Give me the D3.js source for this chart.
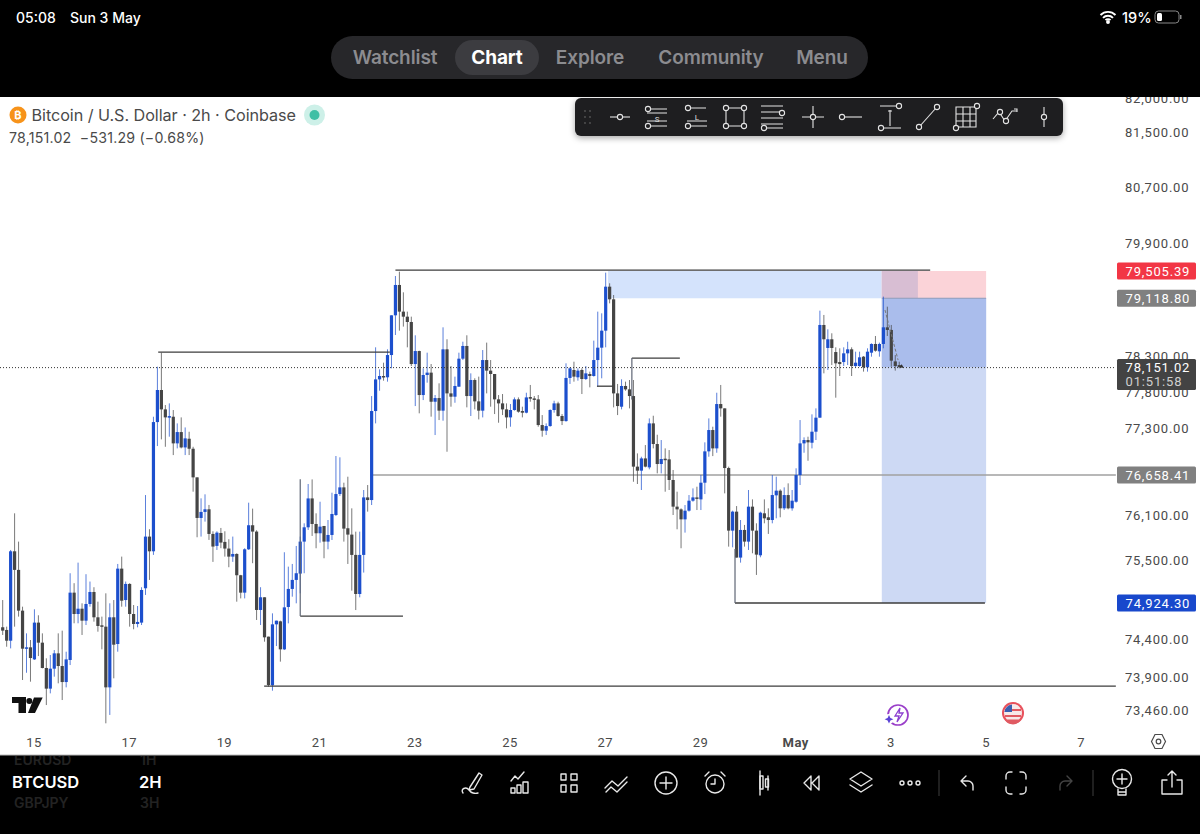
<!DOCTYPE html>
<html><head><meta charset="utf-8">
<script src="https://cdn.jsdelivr.net/npm/d3@7/dist/d3.min.js"></script>
<style>html,body{margin:0;padding:0;background:#000;overflow:hidden}svg{display:block;font-family:Roboto,Inter,sans-serif}</style>
</head><body><div id="chart"></div>
<script>
const opens=[74600,74564,74421,75620,75369,74822,74315,74333,74173,74662,
74395,74059,73786,74050,74253,74085,73873,74165,75063,74777,
74848,74688,74911,75072,74733,74626,74608,73803,74733,74377,
75386,74964,75180,74777,74644,74662,75122,75819,75620,77387,
77832,77563,77448,77461,77093,77249,77037,77157,77019,76626,
76072,76154,76190,75855,75693,75868,75747,75657,75548,75584,
75297,75063,75647,75973,75887,74831,75001,74475,73830,74639,
74679,74306,74871,75113,75234,75319,75751,75945,76338,75990,
75864,75963,75751,75841,76112,76398,76489,75932,75846,75571,
75045,75571,76352,76316,77540,77980,78027,78009,78320,78878,
79307,78930,78859,78784,78194,78376,77762,78041,78074,77669,
77720,77545,78400,77785,77739,77878,78269,78447,77748,77971,
77674,77545,78250,78102,78055,77702,77646,77563,77452,77554,
77702,77540,77517,77734,77715,77702,77346,77268,77332,77554,
77646,77471,77401,78000,78111,78009,78111,77985,78055,78027,
78250,78423,78662,79283,79104,77785,77600,77888,77841,77748,
76773,76718,76886,76763,77369,77084,76809,76882,76873,76590,
76226,76189,76053,76171,76307,76352,76325,76553,76983,77277,
77024,77637,77577,76754,75900,76158,75535,75909,75751,76226,
75900,75566,76135,76081,76044,76380,76444,76203,76384,76203,
76293,76658,77093,77139,77102,77254,77448,78742,78419,78541,
78362,78222,78222,78344,78400,78166,78166,78297,78148,78353,
78475,78372,78475,78709,78672,78231,78180];
const closes=[74555,74421,75620,75369,74822,74315,74333,74191,74662,74395,
74059,73786,74050,74253,74085,73873,74173,75063,74777,74848,
74688,74911,75072,74733,74617,74608,73803,74733,74368,75386,
74955,75180,74777,74644,74671,75099,75819,75620,77387,77832,
77563,77452,77470,77093,77249,77037,77162,77019,76626,76072,
76154,76190,75855,75684,75873,75738,75657,75548,75584,75297,
75063,75647,75973,75887,74831,75001,74466,73834,74639,74688,
74306,74866,75113,75234,75324,75751,75945,76338,75990,75864,
75954,75751,75841,76126,76398,76489,75927,75846,75571,75045,
75571,76352,76316,77540,77980,78027,78009,78320,78878,79307,
78930,78859,78784,78194,78376,77762,78041,78074,77669,77720,
77545,78400,77785,77739,77888,78269,78447,77748,77971,77674,
77545,78250,78102,78055,77702,77646,77563,77452,77554,77702,
77531,77517,77729,77711,77702,77346,77268,77332,77554,77646,
77471,77401,78000,78134,78018,78102,77985,78064,78027,78250,
78423,78662,79283,79104,77785,77609,77888,77841,77748,76773,
76718,76886,76773,77369,77084,76809,76878,76873,76590,76226,
76189,76053,76171,76307,76352,76334,76553,76983,77277,77024,
77637,77577,76754,75900,76158,75535,75909,75751,76226,75900,
75575,76144,76067,76044,76384,76444,76203,76384,76203,76307,
76658,77093,77139,77107,77254,77448,78742,78541,78541,78419,
78204,78194,78344,78400,78166,78213,78288,78148,78367,78475,
78381,78475,78709,78672,78241,78166,78151];
const highs=[74964,74608,75638,76135,75751,74875,74519,74430,74840,74760,
74519,74187,74231,74297,74519,74555,74275,75324,75190,75467,
74920,75311,75212,75136,74942,74742,75054,74920,74964,75449,
75548,75212,75190,74897,74884,75136,76384,75919,77461,78157,
78353,77623,77646,77554,77369,77452,77313,77253,77046,76626,
76339,76394,76249,75891,75891,75936,75891,75783,75819,75593,
75302,75661,76280,76199,75905,75136,75001,74475,74786,74688,
74688,75607,75413,75449,75692,75819,75999,76535,76598,76135,
76293,75963,76044,76416,76919,76901,76553,76635,76203,75886,
75886,76453,76521,77748,78428,78120,78213,78400,78878,79434,
79496,79203,78930,78859,78597,78381,78134,78353,78194,77762,
77925,78709,78541,78166,78018,78353,78507,78597,78064,77995,
78018,78390,78494,78250,78055,77762,77776,77646,77637,77729,
77729,77600,77794,77902,77748,77762,77484,77369,77563,77683,
77669,77498,78204,78148,78227,78134,78134,78166,78088,78522,
78930,78906,79482,79331,79165,77916,77981,77948,77971,77971,
76955,76909,77070,77438,77475,77212,77139,77024,77001,76727,
76430,76203,76248,76384,76475,76498,76658,77107,77438,77323,
77794,77902,77577,76773,76171,76234,76044,75977,76453,76325,
75999,76158,76325,76203,76658,76635,76462,76489,76544,76453,
76750,77415,77176,77185,77494,77577,78944,78883,78681,78625,
78428,78414,78428,78507,78428,78367,78367,78306,78414,78484,
78587,78494,79142,79000,78742,78320,78227];
const lows=[74497,74341,74319,74608,74742,73900,73996,73878,74165,74217,
74054,73570,73724,73944,73856,73636,73803,74098,74653,74653,
74497,74630,74875,74675,74541,74306,73330,73440,73922,74275,
74875,74875,74608,74573,74599,74630,75032,75234,75571,77056,
77148,77046,77185,76932,77024,77024,76932,76932,76430,75810,
75819,76022,75774,75477,75638,75662,75548,75405,75477,74942,
74986,74986,75638,75459,74697,74630,74408,73812,73759,74350,
74143,74297,74652,75009,74920,75054,75324,75909,75828,75661,
75737,75526,75647,75773,76099,76371,75751,75449,75090,74830,
75000,75333,76158,76248,77369,77822,77962,77948,78134,78601,
78662,78719,78428,78166,77609,77508,77692,77934,77462,77208,
77415,77406,76978,77600,77655,77878,78250,77591,77471,77563,
77424,77452,77785,77600,77498,77378,77484,77300,77323,77545,
77517,77452,77508,77669,77563,77323,77185,77208,77323,77517,
77462,77346,77392,77916,77948,77962,77776,77971,77869,78018,
77878,77995,78428,79047,77591,77484,77563,77822,77577,76566,
76535,76453,76763,76736,77024,76681,76681,76430,76453,76112,
75918,75661,75873,76158,76293,76180,76180,76398,76909,76918,
76964,77462,76407,75683,75674,75535,75467,75683,75638,75593,
75301,75539,75999,75855,75999,76067,76081,76180,76189,76171,
76280,76521,76964,76854,77024,77139,77448,78064,78111,78180,
77725,78027,78166,78180,78027,78148,78157,78088,78088,78297,
78367,78297,78414,78587,78157,78102,78134];

const dayTicks=["15","17","19","21","23","25","27","29","May","3","5","7"];
const dayTickIndex=[8,32,56,80,104,128,152,176,200,224,248,272];
const priceTicks=[82000,81500,80700,79900,78300,77800,77300,76100,75500,74400,73900,73460];
// drawings: [start index, end index, price]
const supportLines=[[99,233.8,79519],[39.2,97.6,78362],[149.8,153.8,77885],[158.6,170.7,78278],[75,100.9,74750],[184.6,247.6,74924.3],[65.9,280.6,73820]];
const stemLines=[[75,76600,74750],[158.6,77700,78278],[184.6,75650,74924.3]];
const lastPrice=78151.02, entryPrice=79118.8, stopPrice=79505.39, targetPrice=74924.3, levelPrice=76658.41;

const W=1200,H=834;
const svg=d3.select("#chart").append("svg").attr("width",W).attr("height",H).style("background","#fff");
const x=d3.scaleLinear().domain([0,280]).range([2.7,2.7+280*3.967]);
const y=d3.scaleLog().domain([79505.39,74924.3]).range([271,603]);
const TXT="#4a4a4a",BLUE="#1c4fcd",GRAY="#454545";
svg.append("defs").append("clipPath").attr("id","plot").append("rect").attr("x",0).attr("y",97).attr("width",1116).attr("height",658);

// zones
const zones=svg.append("g").attr("clip-path","url(#plot)");
function zone(i0,i1,p0,p1,fill){zones.append("rect").attr("x",x(i0)).attr("width",x(i1)-x(i0)).attr("y",y(p0)).attr("height",y(p1)-y(p0)).attr("fill",fill);}
zone(152.6,221.6,stopPrice,entryPrice,"#d4e3fc");
zone(221.6,247.9,stopPrice,entryPrice,"#fbd3d8");
zone(221.6,230.7,stopPrice,entryPrice,"#d8bed3");
zone(221.6,247.9,entryPrice,targetPrice,"#cdd9f4");
zone(221.6,247.9,entryPrice,lastPrice,"#aabdec");
zones.append("line").attr("x1",x(221.6)).attr("x2",x(247.9)).attr("y1",y(entryPrice)).attr("y2",y(entryPrice)).attr("stroke","#8f9ab8").attr("stroke-width",1.2);

// level line
zones.append("line").attr("x1",x(92.6)).attr("x2",x(280.6)).attr("y1",y(levelPrice)).attr("y2",y(levelPrice)).attr("stroke","#a0a0a0").attr("stroke-width",1.5);

// candles
const idx=d3.range(opens.length);
const candle=zones.append("g").selectAll("g").data(idx).join("g");
const col=i=>closes[i]>=opens[i]?BLUE:GRAY;
candle.append("line").attr("x1",x).attr("x2",x).attr("y1",i=>y(highs[i])).attr("y2",i=>y(lows[i]))
  .attr("stroke",col).attr("stroke-width",1).attr("stroke-opacity",.72);
candle.append("rect").attr("x",i=>x(i)-1.6).attr("width",3.2)
  .attr("y",i=>y(Math.max(opens[i],closes[i])))
  .attr("height",i=>Math.max(1.5,Math.abs(y(opens[i])-y(closes[i]))))
  .attr("fill",col);

// drawings
zones.selectAll(".sup").data(supportLines).join("line").attr("x1",d=>x(d[0])).attr("x2",d=>x(d[1])).attr("y1",d=>y(d[2])).attr("y2",d=>y(d[2])).attr("stroke","#3d3d3d").attr("stroke-width",1.3);
zones.selectAll(".stem").data(stemLines).join("line").attr("x1",d=>x(d[0])).attr("x2",d=>x(d[0])).attr("y1",d=>y(d[1])).attr("y2",d=>y(d[2])).attr("stroke","#5f6675").attr("stroke-width",1.2);
zones.append("line").attr("x1",x(222.4)).attr("x2",x(225.7)).attr("y1",y(78953)).attr("y2",y(78251)).attr("stroke","#777").attr("stroke-dasharray","3 2");
zones.append("path").attr("d",`M${x(226)},${y(78148)}L${x(226.6)},${y(78190)}L${x(227.2)},${y(78140)}Z`).attr("fill","#333");
zones.append("line").attr("x1",0).attr("x2",1116).attr("y1",y(lastPrice)+.5).attr("y2",y(lastPrice)+.5).attr("stroke","#333").attr("stroke-dasharray","1 2");

// price axis
const yAxis=d3.axisRight(y).tickValues(priceTicks).tickFormat(d3.format(",.2f")).tickSize(0).tickPadding(0);
const ya=svg.append("g").attr("transform","translate(1125,0)").call(yAxis);
ya.select(".domain").remove();
ya.selectAll("text").attr("fill",TXT).attr("font-size",13).attr("font-family","Roboto").attr("letter-spacing",".8px").attr("dy","0.3em");
ya.selectAll("text").filter(d=>d<74500).attr("dy","0.1em");

// time axis
const xAxis=d3.axisBottom(x).tickValues(dayTickIndex).tickFormat((d,i)=>dayTicks[i]).tickSize(0).tickPadding(0);
const xa=svg.append("g").attr("transform","translate(-1,738)").call(xAxis);
xa.select(".domain").remove();
xa.selectAll("text").attr("fill",TXT).attr("font-size",13).attr("font-family","Roboto").attr("letter-spacing",".4px").attr("font-weight",(d,i)=>dayTicks[i]==="May"?700:400);

// price tags
function tag(p,label,fill){const c=y(p);svg.append("rect").attr("x",1117).attr("y",c-8.5).attr("width",79).attr("height",17).attr("rx",1.5).attr("fill",fill);
 svg.append("text").attr("x",1125.5).attr("y",c+4.7).attr("fill","#fff").attr("font-size",13).attr("letter-spacing",".85px").text(label);}
tag(stopPrice,"79,505.39","#f23645");
tag(entryPrice,"79,118.80","#808080");
tag(levelPrice,"76,658.41","#808080");
tag(targetPrice,"74,924.30","#1848cc");
svg.append("rect").attr("x",1117).attr("y",359).attr("width",79).attr("height",31).attr("rx",1.5).attr("fill","#434343");
svg.append("text").attr("x",1125.5).attr("y",372).attr("fill","#fff").attr("font-size",13).attr("letter-spacing",".85px").text("78,151.02");
svg.append("text").attr("x",1125.5).attr("y",386).attr("fill","#cfcfcf").attr("font-size",13).attr("letter-spacing",".85px").text("01:51:58");

// legend
svg.append("circle").attr("cx",18).attr("cy",115).attr("r",8.5).attr("fill","#f7931a");
svg.append("text").attr("x",18).attr("y",119).attr("text-anchor","middle").attr("fill","#fff").attr("font-size",11).attr("font-weight",700).text("₿");
svg.append("text").attr("x",31.5).attr("y",120.5).attr("fill",TXT).attr("font-size",16.2).attr("font-family","Inter").attr("letter-spacing","-.05px").text("Bitcoin / U.S. Dollar · 2h · Coinbase");
svg.append("circle").attr("cx",314.5).attr("cy",115).attr("r",10.5).attr("fill","#cdf0e8");
svg.append("circle").attr("cx",314.5).attr("cy",115).attr("r",5).attr("fill","#3fbfa5");
svg.append("text").attr("x",9).attr("y",143).attr("fill",TXT).attr("font-size",14.2).attr("font-family","Inter").attr("letter-spacing",".2px").style("white-space","pre").text("78,151.02  −531.29 (−0.68%)");

// TV logo
svg.append("path").attr("fill","#111").attr("d","M12,697h14v16h-7.5v-10h-6.5zM34,697.5h8.7L35,713h-7z");
svg.append("circle").attr("cx",29.3).attr("cy",701).attr("r",3).attr("fill","#111");

// event icons
const e1=svg.append("g").attr("transform","translate(898,715)");
e1.append("circle").attr("r",10).attr("fill","none").attr("stroke","#9a3fc9").attr("stroke-width",1.7);
e1.append("circle").attr("cx",-9).attr("cy",4).attr("r",5).attr("fill","#fff");
e1.append("path").attr("d","M-9,0l1.4,3 3,1.2 -3,1.2 -1.4,3 -1.4,-3 -3,-1.2 3,-1.2z").attr("fill","#5a42d6");
e1.append("path").attr("d","M2,-7l-5,8h4l-2,6 6,-9h-4z").attr("fill","none").attr("stroke","#8b3fd0").attr("stroke-width",1.3);
const e2=svg.append("g").attr("transform","translate(1013,713)");
e2.append("circle").attr("r",11).attr("fill","#e8505b");
e2.append("circle").attr("r",9).attr("fill","#f7e9e9");
e2.append("path").attr("d","M-8,-3h16M-8,3h16").attr("stroke","#e05a62").attr("stroke-width",2);
e2.append("path").attr("d","M-1,-8.6A9,9 0 0 0 -8.6,-1H-1z").attr("fill","#3a5fb0");
e2.append("path").attr("d","M-8,6.5A9,9 0 0 0 8,6.5z").attr("fill","#e05a62");
svg.append("path").attr("transform","translate(1158.5,741.5)").attr("d","M-3.5,-7h7l3.5,7 -3.5,7h-7l-3.5,-7z").attr("fill","none").attr("stroke",TXT).attr("stroke-width",1.2);
svg.append("circle").attr("cx",1158.5).attr("cy",741.5).attr("r",2.3).attr("fill","none").attr("stroke",TXT).attr("stroke-width",1.2);

// top chrome
svg.append("rect").attr("width",W).attr("height",97).attr("fill","#000");
svg.append("text").attr("x",16).attr("y",23).attr("fill","#fff").attr("font-size",14).attr("font-family","Inter").attr("font-weight",500).text("05:08");
svg.append("text").attr("x",70).attr("y",23).attr("fill","#fff").attr("font-size",14).attr("font-family","Inter").attr("font-weight",500).text("Sun 3 May");
svg.append("text").attr("x",1122).attr("y",22.5).attr("fill","#fff").attr("font-size",14.5).attr("font-family","Inter").attr("font-weight",500).text("19%");
const wifi=svg.append("g").attr("transform","translate(1108,22)").attr("fill","none").attr("stroke","#fff").attr("stroke-width",1.9);
wifi.append("path").attr("d","M-7.5,-7A10.5,10.5 0 0 1 7.5,-7M-5,-4.2A7,7 0 0 1 5,-4.2M-2.5,-1.8A3.5,3.5 0 0 1 2.5,-1.8");
wifi.append("circle").attr("cy",0).attr("r",1).attr("fill","#fff");
svg.append("rect").attr("x",1155).attr("y",11).attr("width",24).attr("height",12).attr("rx",3.5).attr("fill","none").attr("stroke","#888");
svg.append("rect").attr("x",1157).attr("y",13).attr("width",5).attr("height",8).attr("rx",1.5).attr("fill","#fff");
svg.append("rect").attr("x",1180).attr("y",15).attr("width",1.5).attr("height",4).attr("fill","#888");
svg.append("rect").attr("x",331).attr("y",36).attr("width",537).attr("height",43).attr("rx",21.5).attr("fill","#27272a");
svg.append("rect").attr("x",455).attr("y",40).attr("width",84).attr("height",35).attr("rx",17.5).attr("fill","#3c3c40");
const navLabels=["Watchlist","Chart","Explore","Community","Menu"],navX=[395,497,590,711,822];
svg.selectAll(".nav").data(navLabels).join("text").attr("x",(d,i)=>navX[i]).attr("y",64).attr("text-anchor","middle").attr("font-family","Inter").attr("font-size",19).attr("letter-spacing","-.1px").attr("font-weight",d=>d==="Chart"?700:600).attr("fill",d=>d==="Chart"?"#fff":"#8c8c90").text(d=>d);

// drawing toolbar
svg.append("rect").attr("x",575).attr("y",98).attr("width",488).attr("height",38).attr("rx",6).attr("fill","#1e1e20").style("filter","drop-shadow(0 2px 3px rgba(0,0,0,.35))");
const tb=svg.append("g").attr("fill","none").attr("stroke","#e4e4e4").attr("stroke-width",1.1);
[[585,111],[590,111],[585,117],[590,117],[585,123],[590,123]].forEach(p=>svg.append("circle").attr("cx",p[0]).attr("cy",p[1]).attr("r",.9).attr("fill","#555"));
function tool(cx,d,dots){const g=tb.append("g").attr("transform",`translate(${cx},117)`);g.append("path").attr("d",d);(dots||[]).forEach(p=>g.append("circle").attr("cx",p[0]).attr("cy",p[1]).attr("r",2.6).attr("fill","#1e1e20"));return g;}
tool(620,"M-10,0h20",[[0,0]]);
tool(657,"M-7,-8h17M-10,-4h20M-10,4h20M-7,9h17",[[-9,-8],[-9,9]]);
tool(697,"M-6,-9h15M-10,4h20M-6,9h16",[[-9,-9],[-9,9]]);
tool(735,"M-8,-9h16M-8,9h16M-9,-8v17M9,-8v17",[[-9,-9],[9,-9],[-9,9],[9,9]]);
tool(773,"M-12,-11h22M-12,-5h22M-12,1h22M-12,7h22M-7,11h17",[[9,-4],[-9,11]]);
tool(813,"M-11,0h22M0,-11v22",[[0,0]]);
tool(851,"M-6,0h17",[[-9,0]]);
tool(890,"M-10,-11h17M-6,11h17M0,-7v16M-2,-6h4",[[9,-11],[-9,11]]);
tool(928,"M-8,9L8,-9",[[-9,10],[9,-10]]);
tool(966,"M-10,-10h20v20h-20zM-10,-3h20M-10,4h20M-3,-10v20M4,-10v20",[[11,-11],[-10,11]]);
tool(1005,"M-12,2l6,-7 6,9 7,-10 5,0M9,-8h3v3",[[-5,-5],[1,4]]);
tool(1044,"M0,-10v20",[[0,0]]);
svg.append("text").attr("x",657).attr("y",121.5).attr("text-anchor","middle").attr("fill","#ddd").attr("font-size",8).text("S");
svg.append("text").attr("x",697).attr("y",119.5).attr("text-anchor","middle").attr("fill","#ddd").attr("font-size",8).text("L");

// bottom chrome
svg.append("rect").attr("y",755).attr("width",W).attr("height",79).attr("fill","#000");
svg.append("line").attr("x1",0).attr("x2",W).attr("y1",755).attr("y2",755).attr("stroke","#bbb");
const bottomRows=[["EURUSD","1H",765,"#232323",14,600],["BTCUSD","2H",788,"#fff",16.5,600],["GBPJPY","3H",808,"#232323",14,600]];
svg.append("clipPath").attr("id","bot").append("rect").attr("y",756).attr("width",300).attr("height",78);
bottomRows.forEach(r=>{[[r[0],r[0]==="BTCUSD"?12:14],[r[1],r[0]==="BTCUSD"?139:140]].forEach(t=>svg.append("text").attr("clip-path","url(#bot)").attr("x",t[1]).attr("y",r[2]).attr("fill",r[3]).attr("font-size",r[4]).attr("font-family","Inter").attr("font-weight",r[5]).text(t[0]));});
const bi=svg.append("g").attr("fill","none").attr("stroke","#e8e8e8").attr("stroke-width",1.4).attr("stroke-linecap","round").attr("stroke-linejoin","round");
function bIcon(cx,d,sw){bi.append("path").attr("transform",`translate(${cx},783)`).attr("d",d).attr("stroke",sw||null);}
bIcon(472,"M-2,4L7,-10L10,-8L2,6L-3,7zM-9,10c-3,-4 3,-7 6,-3c2,3 6,4 9,3");
bIcon(520,"M-9,-2l4,-5 3,3 6,-7M-9,10v-5h4v5zM-3,10v-8h4v8zM3,10v-11h5v11z");
bIcon(569,"M-8,-9h5v6h-5zM2,-9h6v6h-6zM-8,2h5v7h-5zM2,2h6v7h-6z");
bIcon(616,"M-11,5l7,-7 6,5 9,-9M-10,9l5,-5 6,5 10,-10");
bi.append("circle").attr("cx",666).attr("cy",783).attr("r",11);bIcon(666,"M-6,0h12M0,-6v12");
bi.append("circle").attr("cx",715).attr("cy",784).attr("r",9);bIcon(715,"M0,-4v5h-4M-10,-7l4,-4M10,-7l-4,-4");
bIcon(764,"M-4,-12v24M4,-7v14");
bi.append("rect").attr("x",760).attr("y",776).attr("width",3).attr("height",13);bi.append("rect").attr("x",765.5).attr("y",779).attr("width",3).attr("height",8);
bIcon(812,"M-1,-7l-7,7 7,7zM7,-7l-7,7 7,7z");
bIcon(861,"M0,-11l11,7 -11,7 -11,-7zM-11,2l11,7 11,-7");
bi.append("circle").attr("cx",902).attr("cy",783).attr("r",2);bi.append("circle").attr("cx",910).attr("cy",783).attr("r",2);bi.append("circle").attr("cx",918).attr("cy",783).attr("r",2);
svg.append("line").attr("x1",939).attr("x2",939).attr("y1",770).attr("y2",796).attr("stroke","#2a2a2a").attr("stroke-width",1.5);
bIcon(967,"M6,7v-4a5,5 0 0 0 -5,-5h-6M-1,-7l-5,5 5,5");
bIcon(1016,"M-10,-4v-3a4,4 0 0 1 4,-4h2M4,-11h2a4,4 0 0 1 4,4v3M10,4v3a4,4 0 0 1 -4,4h-2M-4,11h-2a4,4 0 0 1 -4,-4v-3");
bIcon(1066,"M-6,7v-4a5,5 0 0 1 5,-5h6M1,-7l5,5 -5,5","#444");
svg.append("line").attr("x1",1093).attr("x2",1093).attr("y1",770).attr("y2",796).attr("stroke","#2a2a2a").attr("stroke-width",1.5);
bi.append("circle").attr("cx",1122).attr("cy",779).attr("r",9.5);bIcon(1122,"M-5,-4h10M0,-9v10M-4,6v6h8v-6M-4,9h8");
bIcon(1172,"M-10,-3h5M5,-3h5v14h-20v-14M0,4v-16M-4,-8l4,-4 4,4");
</script></body></html>
